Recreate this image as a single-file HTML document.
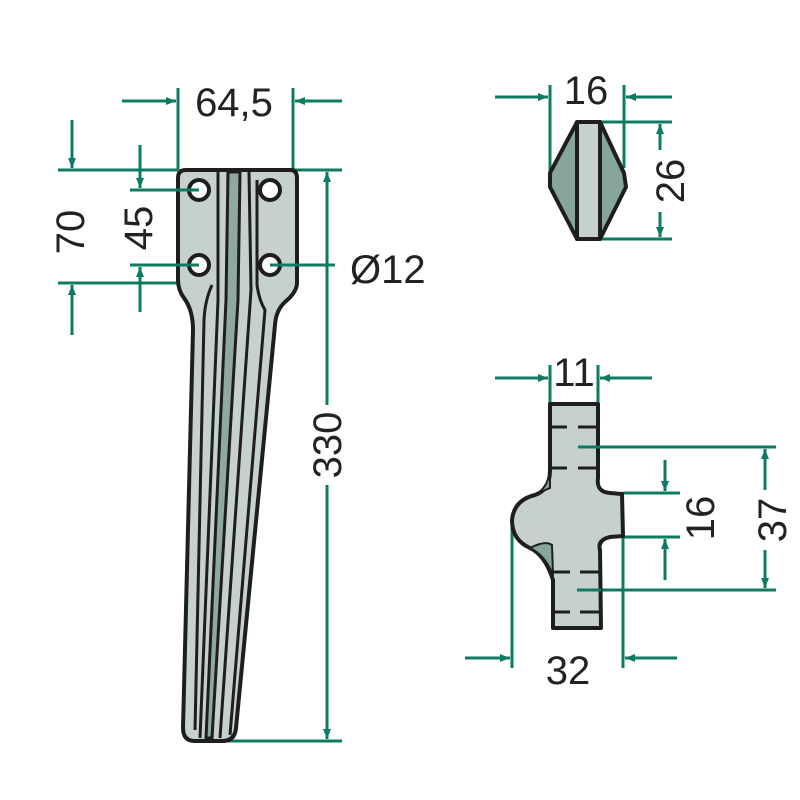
<!DOCTYPE html>
<html><head><meta charset="utf-8"><style>body{margin:0;background:#fff}svg{display:block}text{font-family:"Liberation Sans",sans-serif;font-size:40px;fill:#222}</style></head>
<body>
<svg width="800" height="800" viewBox="0 0 800 800" xmlns="http://www.w3.org/2000/svg">
<defs>
<marker id="a" markerWidth="10" markerHeight="8" refX="10" refY="4" orient="auto" markerUnits="userSpaceOnUse"><path d="M0,0 L10,4 L0,8 Z" fill="#0f7a62"/></marker>
</defs>
<g stroke="#0f7a62" stroke-width="3" fill="none">
<!-- 64,5 -->
<line x1="178" y1="88" x2="178" y2="170"/><line x1="293" y1="88" x2="293" y2="170"/>
<line x1="122" y1="101" x2="176" y2="101" marker-end="url(#a)"/><line x1="342" y1="101" x2="295" y2="101" marker-end="url(#a)"/>
<!-- 70 -->
<line x1="58" y1="170" x2="178" y2="170"/><line x1="58" y1="283" x2="220" y2="283"/>
<line x1="72" y1="120" x2="72" y2="168" marker-end="url(#a)"/><line x1="72" y1="335" x2="72" y2="285" marker-end="url(#a)"/>
<!-- 45 -->
<line x1="130" y1="190" x2="199" y2="190"/><line x1="130" y1="265" x2="199" y2="265"/>
<line x1="140" y1="145" x2="140" y2="188" marker-end="url(#a)"/><line x1="140" y1="312" x2="140" y2="267" marker-end="url(#a)"/>
<!-- Ø12 -->
<line x1="270" y1="265" x2="335" y2="265"/>
<!-- 330 -->
<line x1="293" y1="170" x2="342" y2="170"/><line x1="215" y1="741" x2="342" y2="741"/>
<line x1="327" y1="405" x2="327" y2="172" marker-end="url(#a)"/><line x1="327" y1="485" x2="327" y2="739" marker-end="url(#a)"/>
<!-- 16 top -->
<line x1="550" y1="85" x2="550" y2="172"/><line x1="624" y1="85" x2="624" y2="168"/>
<line x1="495" y1="97" x2="548" y2="97" marker-end="url(#a)"/><line x1="672" y1="97" x2="626" y2="97" marker-end="url(#a)"/>
<!-- 26 -->
<line x1="600" y1="122" x2="672" y2="122"/><line x1="600" y1="239" x2="672" y2="239"/>
<line x1="660" y1="150" x2="660" y2="124" marker-end="url(#a)"/><line x1="660" y1="212" x2="660" y2="237" marker-end="url(#a)"/>
<!-- 11 -->
<line x1="550" y1="365" x2="550" y2="404"/><line x1="598" y1="365" x2="598" y2="404"/>
<line x1="495" y1="378" x2="548" y2="378" marker-end="url(#a)"/><line x1="652" y1="378" x2="600" y2="378" marker-end="url(#a)"/>
<!-- 37 / 16 -->
<line x1="578" y1="447" x2="776" y2="447"/><line x1="577" y1="590" x2="776" y2="590"/>
<line x1="623" y1="493" x2="680" y2="493"/><line x1="623" y1="537" x2="680" y2="537"/>
<line x1="765" y1="490" x2="765" y2="449" marker-end="url(#a)"/><line x1="765" y1="550" x2="765" y2="588" marker-end="url(#a)"/>
<line x1="665" y1="460" x2="665" y2="491" marker-end="url(#a)"/><line x1="665" y1="580" x2="665" y2="539" marker-end="url(#a)"/>
<!-- 32 -->
<line x1="512" y1="520" x2="512" y2="668"/><line x1="623" y1="537" x2="623" y2="668"/>
<line x1="465" y1="658" x2="510" y2="658" marker-end="url(#a)"/><line x1="677" y1="658" x2="625" y2="658" marker-end="url(#a)"/>
</g>
<!-- tine -->
<g stroke="#1e1e1e" stroke-width="4" stroke-linejoin="round">
<path d="M186,170 L290,170 Q297,170 297,178 L297,283 Q297,292 285,302 Q276,310 275,325 L236,728 Q235,741 222,741 L195,741 Q183,741 183,728 L193,330 Q193,310 184,298 Q178,290 178,280 L178,178 Q178,170 186,170 Z" fill="#c6d1ce"/>
<path d="M228,172 L240,172 L238,300 L212,738 L206,738 L226,300 Z" fill="#8eaa9f" stroke-width="3"/>
<path d="M218,172 L218,300 L200,738" fill="none" stroke-width="3"/>
<path d="M249,172 L251,290 L220,738" fill="none" stroke-width="3"/>
<path d="M212,285 Q205,300 204,320 L195,730" fill="none" stroke-width="3"/>
<path d="M257,180 L257,285 Q259,300 265,310 L230,735" fill="none" stroke-width="3"/>
<circle cx="199" cy="190" r="10" fill="#fff"/><circle cx="270" cy="190" r="10" fill="#fff"/>
<circle cx="199" cy="265" r="10" fill="#fff"/><circle cx="270" cy="265" r="10" fill="#fff"/>
</g>
<g stroke="#0f7a62" stroke-width="3"><line x1="130" y1="190" x2="199" y2="190"/><line x1="130" y1="265" x2="199" y2="265"/><line x1="270" y1="265" x2="335" y2="265"/></g>
<!-- hexagon -->
<g stroke="#1e1e1e" stroke-width="4" stroke-linejoin="round">
<polygon points="577,122 600,122 624,173 626,187 600,239 577,239 550,187 550,173" fill="#86a69a"/>
<rect x="577" y="122" width="23" height="117" fill="#c6d1ce"/>
</g>
<!-- bottom section -->
<g stroke="#1e1e1e" stroke-width="4" stroke-linejoin="round">
<path d="M550,404 L598,404 L598,478 Q596,492 610,493 L622,494 L623,536 L610,537 Q597,540 600,550 L601,628 L553,628 L553,580 Q545,555 530,548 Q512,540 512,520 Q514,500 535,495 Q550,490 550,470 Z" fill="#c6d1ce"/>
<path d="M530,548 Q545,540 552,545 L553,575 Q545,555 530,548 Z" fill="#86a69a" stroke-width="2"/>
<path d="M550,470 Q548,488 535,495 Q545,490 550,488 Z" fill="#86a69a" stroke-width="2"/>
<path d="M598,478 Q596,492 610,493 Q600,493 598,485 Z" fill="#86a69a" stroke-width="2"/>
<path d="M610,537 Q597,540 600,550 Q600,540 610,537 Z" fill="#86a69a" stroke-width="2"/>
<g stroke-width="3"><line x1="550" y1="427" x2="567" y2="427"/><line x1="578" y1="427" x2="596" y2="427"/>
<line x1="550" y1="468" x2="567" y2="468"/><line x1="578" y1="468" x2="596" y2="468"/>
<line x1="553" y1="572" x2="570" y2="572"/><line x1="580" y1="572" x2="599" y2="572"/>
<line x1="553" y1="612" x2="570" y2="612"/><line x1="580" y1="612" x2="599" y2="612"/></g>
</g>
<g stroke="#0f7a62" stroke-width="3"><line x1="578" y1="447" x2="600" y2="447"/><line x1="577" y1="590" x2="601" y2="590"/></g>
<!-- text -->
<text x="234" y="116" text-anchor="middle">64,5</text>
<text x="350" y="283">Ø12</text>
<text transform="translate(84,232) rotate(-90)" text-anchor="middle">70</text>
<text transform="translate(152,228) rotate(-90)" text-anchor="middle">45</text>
<text transform="translate(341,445) rotate(-90)" text-anchor="middle">330</text>
<text x="586" y="104" text-anchor="middle">16</text>
<text transform="translate(684,181) rotate(-90)" text-anchor="middle">26</text>
<text x="574" y="386" text-anchor="middle">11</text>
<text transform="translate(714,518) rotate(-90)" text-anchor="middle">16</text>
<text transform="translate(786,520) rotate(-90)" text-anchor="middle">37</text>
<text x="568" y="684" text-anchor="middle">32</text>
</svg>
</body></html>
